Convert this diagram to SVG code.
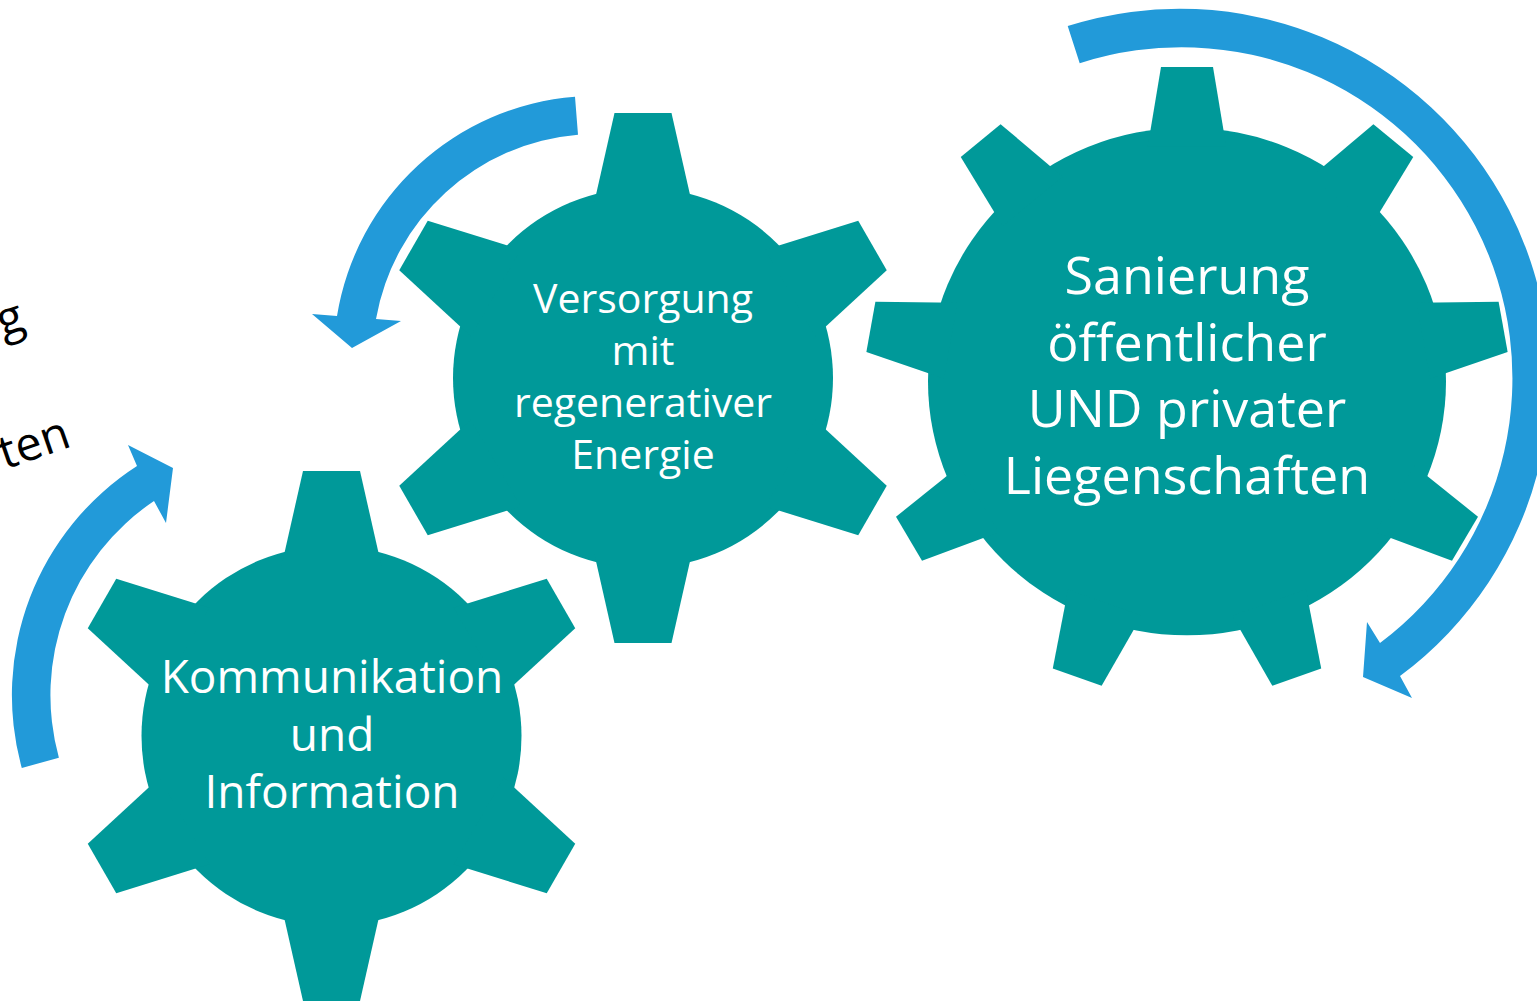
<svg xmlns="http://www.w3.org/2000/svg" xmlns:xlink="http://www.w3.org/1999/xlink" width="1537" height="1001" viewBox="0 0 1537 1001">
<style>
.gear{fill:#009999}
.arrow{fill:#229AD9}
.lbl{font-family:'Open Sans','Noto Sans','DejaVu Sans',sans-serif;fill:#ffffff;text-anchor:middle}
.side{font-family:'Open Sans','Noto Sans','DejaVu Sans',sans-serif;fill:#000000;font-size:47px}
</style>
<defs>
<polygon id="toothS" points="-28.5,-265 28.5,-265 50,-170 -50,-170"/>
<polygon id="toothL" points="-26,-321 26,-321 39.2,-240 -39.2,-240"/>
<g id="gearSmall">
<circle r="190"/>
<use xlink:href="#toothS"/>
<use xlink:href="#toothS" transform="rotate(60)"/>
<use xlink:href="#toothS" transform="rotate(120)"/>
<use xlink:href="#toothS" transform="rotate(180)"/>
<use xlink:href="#toothS" transform="rotate(240)"/>
<use xlink:href="#toothS" transform="rotate(300)"/>
</g>
<g id="gearLarge">
<circle r="259"/>
<use xlink:href="#toothL"/>
<use xlink:href="#toothL" transform="rotate(40)"/>
<use xlink:href="#toothL" transform="rotate(80)"/>
<use xlink:href="#toothL" transform="rotate(120)"/>
<use xlink:href="#toothL" transform="rotate(160)"/>
<use xlink:href="#toothL" transform="rotate(200)"/>
<use xlink:href="#toothL" transform="rotate(240)"/>
<use xlink:href="#toothL" transform="rotate(280)"/>
<use xlink:href="#toothL" transform="rotate(320)"/>
</g>
</defs>
<rect width="1537" height="1001" fill="#ffffff"/>

<g id="side-text">
<text class="side" x="27" y="329" text-anchor="end" transform="rotate(-19 27 329)">g</text>
<text class="side" x="73" y="446" text-anchor="end" transform="rotate(-19 73 446)">ten</text>
</g>

<g id="node-versorgung">
<use xlink:href="#gearSmall" class="gear" transform="translate(643,378)"/>
<text class="lbl" font-size="41" x="643" y="313">Versorgung</text>
<text class="lbl" font-size="41" x="643" y="365">mit</text>
<text class="lbl" font-size="41" x="643" y="417">regenerativer</text>
<text class="lbl" font-size="41" x="643" y="469">Energie</text>
</g>

<g id="node-kommunikation">
<use xlink:href="#gearSmall" class="gear" transform="translate(331.5,736)"/>
<text class="lbl" font-size="46" x="332" y="693">Kommunikation</text>
<text class="lbl" font-size="46" x="332" y="751">und</text>
<text class="lbl" font-size="46" x="332" y="808">Information</text>
</g>

<g id="node-sanierung">
<use xlink:href="#gearLarge" class="gear" transform="translate(1187,381.5) scale(1,0.98)"/>
<text class="lbl" font-size="52" x="1187" y="294">Sanierung</text>
<text class="lbl" font-size="52" x="1187" y="360.5">öffentlicher</text>
<text class="lbl" font-size="52" x="1187" y="427">UND privater</text>
<text class="lbl" font-size="52" x="1187" y="493.5">Liegenschaften</text>
</g>

<g id="connectors">
<path class="arrow" d="M575,96.8 A262,262 0 0 0 337,316 L312,314 L352,348 L401,321 L376,319 A224,224 0 0 1 578,134.7 Z"/>
<path class="arrow" d="M1067.7,26.1 A370,370 0 0 1 1400,676 L1412,698 L1363,677 L1367,622 L1380,643 A331,331 0 0 0 1079.7,63.2 Z"/>
<path class="arrow" d="M21.8,768 A272.5,272.5 0 0 1 137,466 L128,445 L173,468 L166,523 L154,501 A234,234 0 0 0 58.9,757.7 Z"/>
</g>
</svg>
